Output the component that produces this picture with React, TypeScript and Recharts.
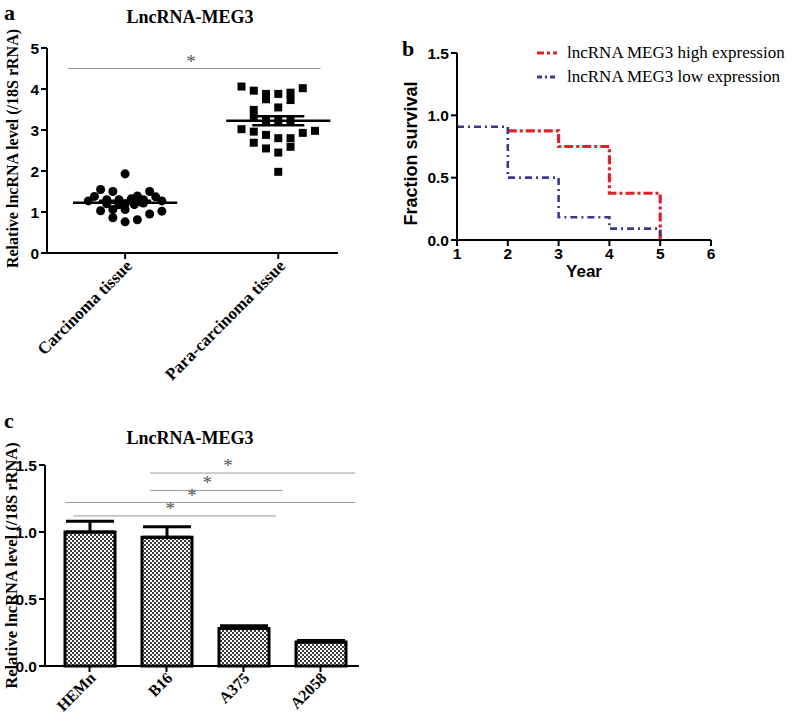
import React from 'react';
import {
  ScatterChart, Scatter, LineChart, Line, BarChart, Bar, ErrorBar,
  XAxis, YAxis, ZAxis, ReferenceLine, ReferenceDot, Legend,
} from 'recharts';

const SERIF = '"Liberation Serif", "Times New Roman", serif';
const SANS = '"Liberation Sans", Arial, sans-serif';

// ---- panel a: tissue scatter ----
const tissueGroups = ['Carcinoma tissue', 'Para-carcinoma tissue'];
const carcinomaValues = [1.93, 1.55, 1.5, 1.5, 1.38, 1.39, 1.37, 1.27, 1.27, 1.3, 1.3, 1.32, 1.3, 1.2, 1.2, 1.22, 1.18, 1.18, 1.03, 1.06, 1.06, 1.02, 0.95, 0.86, 0.81, 0.76, 1.25];
const carcinomaJitter = [0, -0.16, -0.08, 0.16, -0.2, 0.08, 0.2, -0.24, 0.24, -0.12, -0.04, 0.04, 0.12, -0.12, 0, 0.12, -0.04, 0.06, -0.16, -0.08, 0, 0.24, 0.16, -0.08, 0.08, 0, 0.1];
const paraValues = [4.06, 3.96, 3.88, 3.75, 3.88, 3.91, 3.73, 4.02, 3.49, 3.55, 3.3, 3.22, 3.22, 3.22, 3.02, 2.96, 2.88, 2.8, 2.8, 2.59, 2.93, 2.98, 2.69, 2.55, 2.45, 1.98];
const paraJitter = [-0.24, -0.16, -0.08, -0.08, 0, 0.08, 0.08, 0.16, -0.16, 0, -0.16, -0.08, 0, 0.08, -0.24, -0.16, -0.08, 0, 0.08, 0.08, 0.16, 0.24, -0.16, -0.08, 0, 0];
const tissueTicks = [0, 1, 2, 3, 4, 5];

// ---- panel b: survival ----
const highYears = [2, 3, 4, 5];
const highSurvival = [0.875, 0.75, 0.375, 0];
const lowYears = [1, 2, 3, 4, 5];
const lowSurvival = [0.909, 0.5, 0.182, 0.091, 0];
const yearTicks = [1, 2, 3, 4, 5, 6];
const survivalTicks = [0, 0.5, 1, 1.5];

// ---- panel c: cell lines ----
const cellLines = ['HEMn', 'B16', 'A375', 'A2058'];
const cellMeans = [1.0, 0.96, 0.28, 0.18];
const cellErrors = [0.08, 0.08, 0.02, 0.01];
const cellTicks = [0, 0.5, 1, 1.5];
const sigStart = [1.79, 1.79, 0.69, 0.79];
const sigEnd = [4.45, 3.51, 4.45, 3.42];
const sigLevel = [1.44, 1.31, 1.22, 1.12];
const sigStar = [2.8, 2.53, 2.33, 2.05];

const mean = (a: number[]) => a.reduce((s, v) => s + v, 0) / a.length;
const sem = (a: number[]) => {
  const m = mean(a);
  const sd = Math.sqrt(a.reduce((s, v) => s + (v - m) ** 2, 0) / (a.length - 1));
  return sd / Math.sqrt(a.length);
};

const carcinomaPts = carcinomaValues.map((v, i) => ({ x: 1 + carcinomaJitter[i], y: v }));
const paraPts = paraValues.map((v, i) => ({ x: 2 + paraJitter[i], y: v }));
const highData = highYears.map((x, i) => ({ x, y: highSurvival[i] }));
const lowData = lowYears.map((x, i) => ({ x, y: lowSurvival[i] }));
const cellData = cellLines.map((name, i) => ({ name, idx: i + 1, mean: cellMeans[i], err: [0, cellErrors[i]] }));

const axisStyle = { stroke: '#000', strokeWidth: 2 };
const numTick = { fill: '#000', fontFamily: SANS, fontWeight: 'bold', fontSize: 15.5 };

const SlantTick = (props: any) => {
  const { x, y, payload, names, fs, ox, oy } = props;
  const text = names ? names[Math.round(payload.value) - 1] : payload.value;
  const px = x + ox;
  const py = y + oy;
  return (
    <text x={px} y={py} textAnchor="end" transform={`rotate(-45 ${px} ${py})`}
      fontFamily={SERIF} fontWeight="bold" fontSize={fs} fill="#000">{text}</text>
  );
};

const VTitle = (props: any) => {
  const { viewBox, text, ox, oy, font, fs } = props;
  const cx = viewBox.x + ox;
  const cy = viewBox.y + viewBox.height / 2 + oy;
  return (
    <text x={cx} y={cy} textAnchor="middle" dominantBaseline="central" transform={`rotate(-90 ${cx} ${cy})`}
      fontFamily={font} fontWeight="bold" fontSize={fs} fill="#000">{text}</text>
  );
};

const HTitle = (props: any) => {
  const { viewBox, text, oy } = props;
  return (
    <text x={viewBox.x + viewBox.width / 2} y={viewBox.y + oy} textAnchor="middle"
      fontFamily={SANS} fontWeight="bold" fontSize={17} fill="#000">{text}</text>
  );
};

const Star = (p: any) => (
  <text x={p.cx} y={p.cy - 1} textAnchor="middle" fontFamily={SERIF} fontSize={19} fill="#555">*</text>
);

const PanelA = () => {
  const cm = mean(carcinomaValues);
  const cs = sem(carcinomaValues);
  const pm = mean(paraValues);
  const ps = sem(paraValues);
  return (
    <ScatterChart width={345} height={400} margin={{ top: 48, right: 7, bottom: 0, left: 0 }}>
      <XAxis type="number" dataKey="x" domain={[0.49, 2.39]} allowDataOverflow ticks={[1, 2]} interval={0}
        height={147} axisLine={axisStyle} tickLine={axisStyle} tickSize={6}
        tick={<SlantTick names={tissueGroups} fs={17} ox={8} oy={6} />} />
      <YAxis type="number" dataKey="y" domain={[0, 5]} ticks={tissueTicks} interval={0} width={47}
        axisLine={axisStyle} tickLine={axisStyle} tickSize={6} tick={numTick}
        label={<VTitle text="Relative lncRNA level (/18S rRNA)" ox={12} oy={-2} font={SERIF} fs={16} />} />
      <ZAxis range={[70, 70]} />
      <Scatter data={carcinomaPts} shape="circle" fill="#000" isAnimationActive={false} />
      <Scatter data={paraPts} shape="square" fill="#000" isAnimationActive={false} />
      <ReferenceLine segment={[{ x: 1 - 0.34, y: cm }, { x: 1 + 0.34, y: cm }]} stroke="#000" strokeWidth={2.5} />
      <ReferenceLine segment={[{ x: 2 - 0.34, y: pm }, { x: 2 + 0.34, y: pm }]} stroke="#000" strokeWidth={2.5} />
      <ReferenceLine segment={[{ x: 2 - 0.17, y: pm + ps }, { x: 2 + 0.17, y: pm + ps }]} stroke="#000" strokeWidth={2.5} />
      <ReferenceLine segment={[{ x: 2 - 0.17, y: pm - ps }, { x: 2 + 0.17, y: pm - ps }]} stroke="#000" strokeWidth={2.5} />
      <ReferenceLine segment={[{ x: 2, y: pm - ps }, { x: 2, y: pm + ps }]} stroke="#000" strokeWidth={2.5} />
      <ReferenceLine segment={[{ x: 1 - 0.17, y: cm + cs }, { x: 1 + 0.17, y: cm + cs }]} stroke="#000" strokeWidth={2.5} />
      <ReferenceLine segment={[{ x: 0.625, y: 4.5 }, { x: 2.276, y: 4.5 }]} stroke="#999" strokeWidth={1} />
      <ReferenceDot x={1.43} y={4.5} r={0} shape={Star} />
    </ScatterChart>
  );
};

const SurvivalLegend = () => (
  <div style={{ fontFamily: SERIF, fontSize: 17, color: '#000', lineHeight: '24px' }}>
    {[
      { name: 'lncRNA MEG3 high expression', color: '#e0232b', dash: '7 3 3 3' },
      { name: 'lncRNA MEG3 low expression', color: '#3c3a8c', dash: '5 3 2 3' },
    ].map((it) => (
      <div key={it.name} style={{ display: 'flex', alignItems: 'center', whiteSpace: 'nowrap' }}>
        <svg width={30} height={10}>
          <line x1={0} y1={5} x2={20} y2={5} stroke={it.color} strokeWidth={3} strokeDasharray={it.dash} />
        </svg>
        <span>{it.name}</span>
      </div>
    ))}
  </div>
);

const PanelB = () => (
  <LineChart width={397} height={290} margin={{ top: 53, right: 86, bottom: 0, left: 0 }}>
    <XAxis type="number" dataKey="x" domain={[1, 6]} ticks={yearTicks} interval={0} allowDataOverflow
      height={50} axisLine={axisStyle} tickLine={axisStyle} tickSize={6} tick={numTick}
      label={<HTitle text="Year" oy={37} />} />
    <YAxis type="number" dataKey="y" domain={[0, 1.5]} ticks={survivalTicks} interval={0} width={57}
      axisLine={axisStyle} tickLine={axisStyle} tickSize={6} tick={numTick}
      tickFormatter={(v: number) => v.toFixed(1)}
      label={<VTitle text="Fraction survival" ox={11} oy={7} font={SANS} fs={18} />} />
    <Line data={highData} dataKey="y" type="stepAfter" stroke="#e0232b" strokeWidth={3.2}
      strokeDasharray="9 3 3 3" dot={false} isAnimationActive={false} />
    <Line data={lowData} dataKey="y" type="stepAfter" stroke="#3c3a8c" strokeWidth={2.6}
      strokeDasharray="7 4 2 4" dot={false} isAnimationActive={false} />
    <Legend layout="vertical" align="center" verticalAlign="middle" content={<SurvivalLegend />}
      wrapperStyle={{ position: 'absolute', left: 137, top: 41, width: 260 }} />
  </LineChart>
);

const PanelC = () => (
  <BarChart width={370} height={300} data={cellData} margin={{ top: 45, right: 11, bottom: 0, left: 0 }}>
    <XAxis dataKey="name" height={54} padding={{ left: 6, right: 0 }} interval={0}
      axisLine={axisStyle} tickLine={axisStyle} tickSize={6}
      tick={<SlantTick fs={16} ox={7} oy={5} />} />
    <XAxis xAxisId="sig" type="number" dataKey="idx" domain={[0.5, 4.5]} allowDataOverflow hide
      padding={{ left: 6, right: 0 }} />
    <YAxis domain={[0, 1.5]} ticks={cellTicks} interval={0} width={45}
      axisLine={axisStyle} tickLine={axisStyle} tickSize={6} tick={numTick}
      tickFormatter={(v: number) => v.toFixed(1)}
      label={<VTitle text="Relative lncRNA level (/18S rRNA)" ox={11} oy={0} font={SERIF} fs={16.5} />} />
    <Bar dataKey="mean" barSize={50} fill="url(#checker)" stroke="#000" strokeWidth={3} isAnimationActive={false}>
      <ErrorBar dataKey="err" width={24} stroke="#000" strokeWidth={3} direction="y" />
    </Bar>
    {sigLevel.map((lv, i) => (
      <ReferenceLine key={`l${i}`} xAxisId="sig" segment={[{ x: sigStart[i], y: lv }, { x: sigEnd[i], y: lv }]}
        stroke="#999" strokeWidth={1} />
    ))}
    {sigLevel.map((lv, i) => (
      <ReferenceDot key={`s${i}`} xAxisId="sig" x={sigStar[i]} y={lv} r={0} shape={Star} />
    ))}
  </BarChart>
);

const letter = (t: string, left: number, top: number) => (
  <div style={{ position: 'absolute', left, top, fontFamily: SERIF, fontWeight: 'bold', fontSize: 22, lineHeight: '22px' }}>{t}</div>
);

const title = (top: number) => (
  <div style={{ position: 'absolute', left: 90, top, width: 200, textAlign: 'center', fontFamily: SERIF, fontWeight: 'bold', fontSize: 18, lineHeight: '20px' }}>
    LncRNA-MEG3
  </div>
);

export default function App() {
  return (
    <div style={{ position: 'absolute', left: 0, top: 0, width: 797, height: 720, background: '#fff', overflow: 'hidden' }}>
      <svg width={0} height={0} style={{ position: 'absolute' }}>
        <defs>
          <pattern id="checker" width={4} height={4} patternUnits="userSpaceOnUse">
            <rect width={4} height={4} fill="#fff" />
            <rect width={2} height={2} fill="#3a3a3a" />
            <rect x={2} y={2} width={2} height={2} fill="#3a3a3a" />
          </pattern>
        </defs>
      </svg>
      <div style={{ position: 'absolute', left: 0, top: 0 }}><PanelA /></div>
      <div style={{ position: 'absolute', left: 400, top: 0 }}><PanelB /></div>
      <div style={{ position: 'absolute', left: 0, top: 420 }}><PanelC /></div>
      {letter('a', 4, 2)}
      {letter('b', 402, 38)}
      {letter('c', 4, 410)}
      {title(7)}
      {title(428)}
    </div>
  );
}
